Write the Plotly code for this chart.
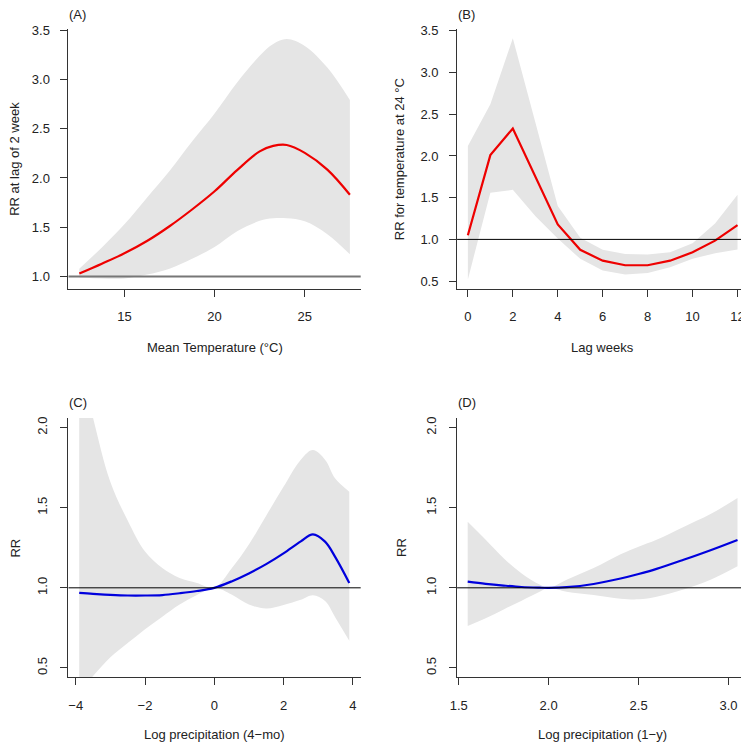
import plotly.graph_objects as go

# window is 749x742; the page body has an 8px margin, so the figure is 8px smaller on each axis
OFF = 8
W, H = 749 - OFF, 742 - OFF

# ---------------- data ----------------
# (A) RR at lag of 2 week vs mean temperature
a_temp = [12.5, 13.75, 15, 16.25, 17.5, 18.75, 20, 21.25, 22.5, 23.25, 24, 25, 26.25, 27.5]
a_rr = [1.03, 1.13, 1.235, 1.36, 1.51, 1.68, 1.865, 2.08, 2.27, 2.325, 2.335, 2.255, 2.085, 1.83]
a_upper = [1.08, 1.295, 1.53, 1.80, 2.07, 2.37, 2.655, 2.97, 3.24, 3.36, 3.41, 3.34, 3.12, 2.79]
a_lower = [0.99, 0.98, 0.98, 1.02, 1.08, 1.18, 1.30, 1.46, 1.565, 1.59, 1.59, 1.56, 1.43, 1.225]

# (B) RR for temperature at 24 C vs lag weeks
b_lag = [0, 1, 2, 3, 4, 5, 6, 7, 8, 9, 10, 11, 12]
b_rr = [1.05, 2.01, 2.33, 1.75, 1.18, 0.875, 0.745, 0.69, 0.69, 0.745, 0.845, 0.985, 1.17]
b_upper = [2.12, 2.62, 3.41, 2.40, 1.40, 1.02, 0.875, 0.826, 0.82, 0.846, 0.953, 1.19, 1.535]
b_lower = [0.52, 1.56, 1.595, 1.28, 1.01, 0.767, 0.628, 0.58, 0.596, 0.667, 0.767, 0.834, 0.878]

# (C) RR vs log precipitation (4-mo)
c_logp = [-3.9, -3.5, -3, -2.5, -2, -1.5, -1, -0.5, 0, 0.5, 1, 1.5, 2, 2.5, 2.85, 3.2, 3.5, 3.9]
c_rr = [0.968, 0.962, 0.956, 0.952, 0.952, 0.955, 0.966, 0.98, 1.0, 1.04, 1.09, 1.148, 1.215, 1.29, 1.333, 1.288, 1.19, 1.03]
c_upper = [2.42, 2.06, 1.66, 1.42, 1.226, 1.123, 1.061, 1.03, 1.0, 1.12, 1.27, 1.45, 1.63, 1.80, 1.86, 1.80, 1.68, 1.60]
c_lower = [0.36, 0.45, 0.566, 0.655, 0.742, 0.82, 0.896, 0.955, 1.0, 0.958, 0.896, 0.871, 0.893, 0.925, 0.953, 0.917, 0.814, 0.67]

# (D) RR vs log precipitation (1-y)
d_logp = [1.55, 1.65, 1.75, 1.85, 1.95, 2.0, 2.1, 2.25, 2.4, 2.5, 2.6, 2.75, 2.9, 3.05]
d_rr = [1.039, 1.025, 1.014, 1.005, 1.001, 1.0, 1.004, 1.024, 1.058, 1.086, 1.118, 1.175, 1.235, 1.299]
d_upper = [1.412, 1.30, 1.185, 1.09, 1.02, 1.0, 1.05, 1.123, 1.21, 1.257, 1.30, 1.38, 1.46, 1.56]
d_lower = [0.762, 0.81, 0.865, 0.92, 0.975, 1.0, 0.975, 0.955, 0.932, 0.928, 0.945, 0.99, 1.05, 1.134]

# tick values
a_xticks = [15, 20, 25]
a_yticks = [1.0, 1.5, 2.0, 2.5, 3.0, 3.5]
b_xticks = [0, 2, 4, 6, 8, 10, 12]
b_yticks = [0.5, 1.0, 1.5, 2.0, 2.5, 3.0, 3.5]
c_xticks = [-4, -2, 0, 2, 4]
c_xtext = ["\u22124", "\u22122", "0", "2", "4"]
cd_yticks = [0.5, 1.0, 1.5, 2.0]
d_xticks = [1.5, 2.0, 2.5, 3.0]

# ---------------- figure ----------------
FONT = "Liberation Sans, Arial, Helvetica, sans-serif"
BAND = "#e5e5e5"
RED = "#ee0000"
BLUE = "#0000dd"
AXC = "#333333"

def px(x):
    return (x - OFF) / W

def py(y):
    return 1 - (y - OFF) / H

fig = go.Figure()

panels = [
    ("x", "y", a_temp, a_rr, a_upper, a_lower, RED, "spline"),
    ("x2", "y2", b_lag, b_rr, b_upper, b_lower, RED, "linear"),
    ("x3", "y3", c_logp, c_rr, c_upper, c_lower, BLUE, "spline"),
    ("x4", "y4", d_logp, d_rr, d_upper, d_lower, BLUE, "spline"),
]
for xa, ya, xs, rr, up, lo, col, shape in panels:
    fig.add_trace(go.Scatter(x=xs, y=lo, xaxis=xa, yaxis=ya, mode="lines",
                             line=dict(width=0, shape=shape, color=BAND),
                             hoverinfo="skip", showlegend=False))
    fig.add_trace(go.Scatter(x=xs, y=up, xaxis=xa, yaxis=ya, mode="lines",
                             line=dict(width=0, shape=shape, color=BAND),
                             fill="tonexty", fillcolor=BAND,
                             hoverinfo="skip", showlegend=False))
    fig.add_trace(go.Scatter(x=xs, y=rr, xaxis=xa, yaxis=ya, mode="lines",
                             line=dict(width=2.2, shape=shape, color=col),
                             showlegend=False))

# reference lines at RR = 1
for i, (xr, yr) in enumerate([("x", "y"), ("x2", "y2"), ("x3", "y3"), ("x4", "y4")]):
    fig.add_shape(type="line", xref=f"{xr} domain", yref=yr, x0=0, x1=1, y0=1.0, y1=1.0,
                  line=dict(color="#777777" if i == 0 else "#000000", width=2 if i == 0 else 1),
                  layer="above")

common_axis = dict(showline=True, linecolor=AXC, linewidth=1, ticks="outside",
                   ticklen=7, tickcolor=AXC, tickwidth=1, showgrid=False,
                   zeroline=False, mirror=False,
                   tickfont=dict(family=FONT, size=13, color="#222222"))

xdomL = [px(62), px(357)]
xdomR = [px(454.3), px(748.3)]
ydomT = [py(285), py(23.3)]
ydomB = [py(676.7), py(415.3)]

fig.update_layout(
    width=W, height=H,
    margin=dict(l=0, r=0, t=0, b=0),
    paper_bgcolor="white", plot_bgcolor="white",
    font=dict(family=FONT, size=13, color="#222222"),
    xaxis=dict(domain=xdomL, anchor="y", range=[11.9, 28.1], tickvals=a_xticks,
               ticklabelstandoff=9, **common_axis),
    yaxis=dict(domain=ydomT, anchor="x", range=[0.876, 3.51], tickvals=a_yticks,
               tickformat=".1f", ticklabelstandoff=8, **common_axis),
    xaxis2=dict(domain=xdomR, anchor="y2", range=[-0.48, 12.48], tickvals=b_xticks,
                ticklabelstandoff=9, **common_axis),
    yaxis2=dict(domain=ydomT, anchor="x2", range=[0.4086, 3.52], tickvals=b_yticks,
                tickformat=".1f", ticklabelstandoff=8, **common_axis),
    xaxis3=dict(domain=xdomL, anchor="y3", range=[-4.21, 4.23], tickvals=c_xticks,
                ticktext=c_xtext, ticklabelstandoff=9, **common_axis),
    yaxis3=dict(domain=ydomB, anchor="x3", range=[0.442, 2.06], tickvals=cd_yticks,
                tickformat=".1f", tickangle=-90, ticklabelstandoff=8, **common_axis),
    xaxis4=dict(domain=xdomR, anchor="y4", range=[1.491, 3.11], tickvals=d_xticks,
                tickformat=".1f", ticklabelstandoff=9, **common_axis),
    yaxis4=dict(domain=ydomB, anchor="x4", range=[0.442, 2.06], tickvals=cd_yticks,
                tickformat=".1f", tickangle=-90, ticklabelstandoff=8, **common_axis),
)

def ann(text, x, y, angle=0, xanchor="center", yanchor="middle"):
    fig.add_annotation(text=text, x=px(x), y=py(y), xref="paper", yref="paper",
                       showarrow=False, textangle=angle, xanchor=xanchor, yanchor=yanchor,
                       font=dict(family=FONT, size=13, color="#222222"))

# panel labels
ann("(A)", 61, 8, xanchor="left")
ann("(B)", 453, 8, xanchor="left")
ann("(C)", 61, 400, xanchor="left")
ann("(D)", 453, 400, xanchor="left")

# axis titles
ann("Mean Temperature (\u00b0C)", 209.5, 344)
ann("Lag weeks", 601, 344)
ann("Log precipitation (4\u2212mo)", 209.5, 734)
ann("Log precipitation (1\u2212y)", 601, 734)
ann("RR at lag of 2 week", 8, 154, angle=-90)
ann("RR for temperature at 24 \u00b0C", 396, 154, angle=-90)
ann("RR", 9, 546, angle=-90)
ann("RR", 398, 546, angle=-90)

fig.write_html("out.html")
